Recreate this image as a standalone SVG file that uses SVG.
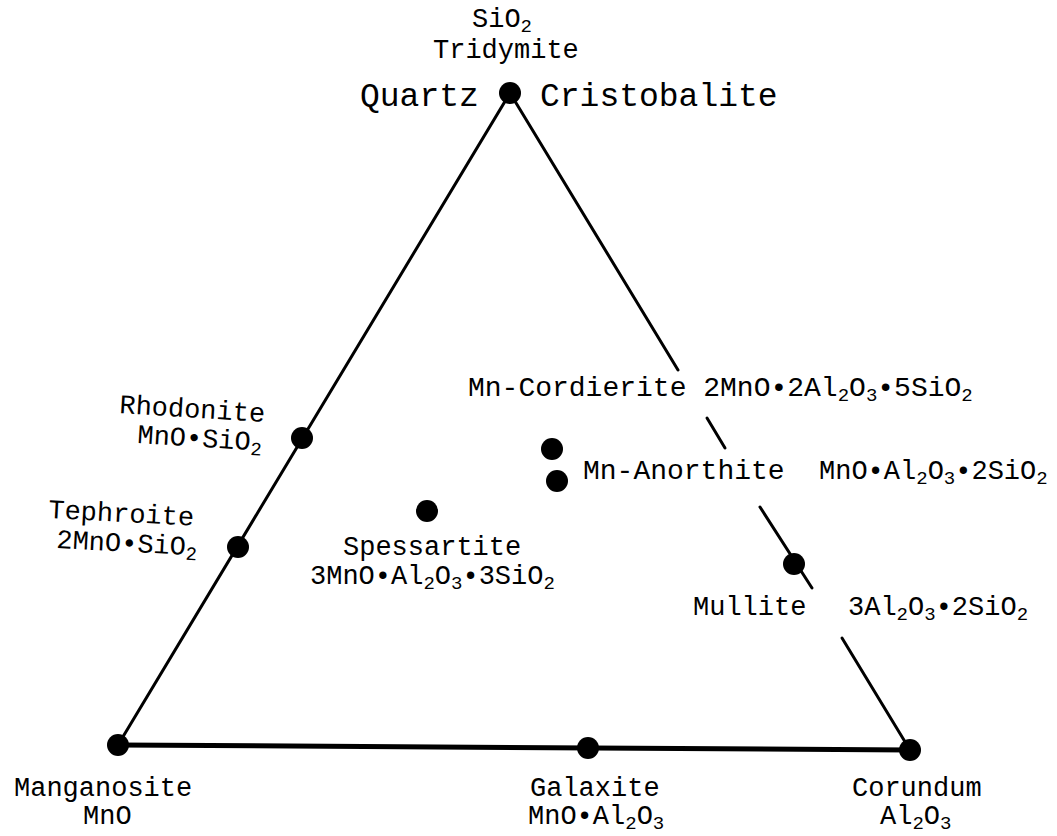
<svg xmlns="http://www.w3.org/2000/svg" width="1057" height="836" viewBox="0 0 1057 836">
<style>
text{font-family:"Liberation Mono","Courier New",monospace;font-size:27px;fill:#000}
.big{font-size:33px}
.m{font-size:28px}
.s{font-size:19px}
.edge{stroke:#000;stroke-width:3;fill:none;stroke-linecap:round}
.base{stroke:#000;stroke-width:5;fill:none}
.dot{fill:#000}
</style>
<rect width="1057" height="836" fill="#fff"/>
<g id="connectors">
<line class="edge" x1="510" y1="93" x2="118" y2="745"/>
<line class="edge" x1="510" y1="93" x2="678" y2="370"/>
<line class="edge" x1="707" y1="418" x2="725" y2="448"/>
<line class="edge" x1="760" y1="507" x2="812" y2="588"/>
<line class="edge" x1="842" y1="638" x2="910" y2="750"/>
<line class="base" x1="118" y1="745" x2="910" y2="750"/>
</g>
<g id="sio2">
<circle class="dot" cx="510" cy="93" r="11"/>
<text x="472" y="27">SiO<tspan class="s" dy="5">2</tspan></text>
<text x="433" y="58">Tridymite</text>
<text class="big" x="360" y="106">Quartz</text>
<text class="big" x="540" y="106">Cristobalite</text>
</g>
<g id="rhodonite">
<circle class="dot" cx="302" cy="438" r="11"/>
<text x="119" y="413" transform="rotate(3.5 119 413)">Rhodonite</text>
<text x="137" y="443" transform="rotate(3.5 137 443)">MnO•SiO<tspan class="s" dy="5">2</tspan></text>
</g>
<g id="tephroite">
<circle class="dot" cx="238" cy="547" r="11"/>
<text x="48" y="518" transform="rotate(3 48 518)">Tephroite</text>
<text x="56" y="548" transform="rotate(3 56 548)">2MnO•SiO<tspan class="s" dy="5">2</tspan></text>
</g>
<g id="spessartite">
<circle class="dot" cx="427" cy="511" r="11"/>
<text x="343" y="555">Spessartite</text>
<text x="310" y="584">3MnO•Al<tspan class="s" dy="5">2</tspan><tspan dy="-5">O</tspan><tspan class="s" dy="5">3</tspan><tspan dy="-5">•3SiO</tspan><tspan class="s" dy="5">2</tspan></text>
</g>
<g id="cordierite">
<circle class="dot" cx="552" cy="449" r="11"/>
<text class="m" x="468" y="396">Mn-Cordierite 2MnO•2Al<tspan class="s" dy="5">2</tspan><tspan dy="-5">O</tspan><tspan class="s" dy="5">3</tspan><tspan dy="-5">•5SiO</tspan><tspan class="s" dy="5">2</tspan></text>
</g>
<g id="anorthite">
<circle class="dot" cx="557" cy="481" r="11"/>
<text class="m" x="583" y="479">Mn-Anorthite</text>
<text x="819" y="479">MnO•Al<tspan class="s" dy="5">2</tspan><tspan dy="-5">O</tspan><tspan class="s" dy="5">3</tspan><tspan dy="-5">•2SiO</tspan><tspan class="s" dy="5">2</tspan></text>
</g>
<g id="mullite">
<circle class="dot" cx="794" cy="564" r="11"/>
<text x="693" y="615">Mullite</text>
<text x="848" y="615">3Al<tspan class="s" dy="5">2</tspan><tspan dy="-5">O</tspan><tspan class="s" dy="5">3</tspan><tspan dy="-5">•2SiO</tspan><tspan class="s" dy="5">2</tspan></text>
</g>
<g id="manganosite">
<circle class="dot" cx="118" cy="745" r="11"/>
<text x="14" y="796">Manganosite</text>
<text x="83" y="824">MnO</text>
</g>
<g id="galaxite">
<circle class="dot" cx="588" cy="748" r="11"/>
<text x="530" y="796">Galaxite</text>
<text x="528" y="824">MnO•Al<tspan class="s" dy="5">2</tspan><tspan dy="-5">O</tspan><tspan class="s" dy="5">3</tspan></text>
</g>
<g id="corundum">
<circle class="dot" cx="910" cy="750" r="11"/>
<text x="852" y="796">Corundum</text>
<text x="880" y="824">Al<tspan class="s" dy="5">2</tspan><tspan dy="-5">O</tspan><tspan class="s" dy="5">3</tspan></text>
</g>
</svg>
